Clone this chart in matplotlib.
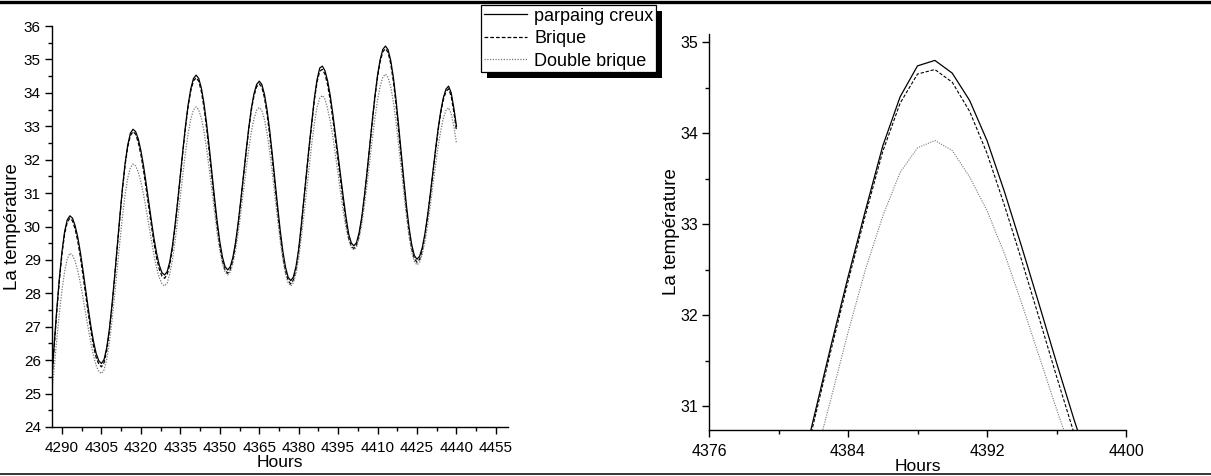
import numpy as np
import matplotlib
matplotlib.use('Agg')
import matplotlib.pyplot as plt
from matplotlib.lines import Line2D
from matplotlib.patches import Rectangle
from matplotlib.ticker import MultipleLocator

plt.rcParams['font.family'] = ['Liberation Sans', 'DejaVu Sans']

# hourly simulation output
hours = np.arange(4286, 4441)

parpaing = [
    25.30, 26.45, 27.50, 28.45, 29.25, 29.85, 30.20, 30.32,
    30.25, 30.02, 29.68, 29.22, 28.68, 28.11, 27.54, 27.01, 26.55, 26.20, 25.98, 25.90,
    26.02, 26.37, 26.92, 27.65, 28.50, 29.41, 30.31, 31.16, 31.89, 32.44, 32.79, 32.91,
    32.84, 32.62, 32.27, 31.82, 31.29, 30.73, 30.17, 29.64, 29.19, 28.84, 28.62, 28.55,
    28.65, 28.95, 29.42, 30.05, 30.77, 31.54, 32.31, 33.04, 33.66, 34.13, 34.43, 34.53,
    34.43, 34.14, 33.68, 33.07, 32.37, 31.62, 30.86, 30.16, 29.55, 29.09, 28.80, 28.70,
    28.80, 29.08, 29.53, 30.11, 30.80, 31.53, 32.25, 32.94, 33.53, 33.97, 34.25, 34.35,
    34.25, 33.95, 33.48, 32.86, 32.14, 31.37, 30.60, 29.87, 29.25, 28.78, 28.48, 28.38,
    28.49, 28.81, 29.32, 30.05, 30.85, 31.65, 32.42, 33.15, 33.86, 34.40, 34.74, 34.80,
    34.66, 34.36, 33.92, 33.36, 32.75, 32.12, 31.48, 30.86, 30.28, 29.78, 29.51, 29.42,
    29.52, 29.82, 30.29, 30.92, 31.64, 32.41, 33.18, 33.91, 34.53, 35.00, 35.30, 35.40,
    35.29, 34.97, 34.47, 33.81, 33.03, 32.21, 31.39, 30.62, 29.95, 29.45, 29.13, 29.02,
    29.11, 29.37, 29.78, 30.32, 30.94, 31.61, 32.28, 32.91, 33.44, 33.85, 34.11, 34.20,
    34.00, 33.55, 33.00,
]

brique = [
    25.20, 26.35, 27.42, 28.38, 29.18, 29.78, 30.13, 30.25,
    30.17, 29.92, 29.56, 29.08, 28.53, 27.96, 27.39, 26.86, 26.41, 26.08, 25.88, 25.80,
    25.93, 26.29, 26.85, 27.59, 28.45, 29.36, 30.26, 31.11, 31.84, 32.38, 32.72, 32.84,
    32.76, 32.52, 32.15, 31.68, 31.14, 30.58, 30.02, 29.49, 29.05, 28.72, 28.52, 28.45,
    28.56, 28.87, 29.35, 29.99, 30.72, 31.49, 32.26, 32.99, 33.61, 34.07, 34.36, 34.45,
    34.35, 34.04, 33.56, 32.93, 32.22, 31.47, 30.71, 30.01, 29.41, 28.97, 28.70, 28.60,
    28.71, 29.00, 29.46, 30.05, 30.75, 31.48, 32.20, 32.89, 33.48, 33.91, 34.18, 34.27,
    34.17, 33.85, 33.36, 32.72, 31.99, 31.22, 30.45, 29.72, 29.11, 28.66, 28.38, 28.28,
    28.40, 28.73, 29.25, 29.99, 30.80, 31.60, 32.37, 33.10, 33.80, 34.33, 34.65, 34.70,
    34.56, 34.24, 33.78, 33.21, 32.60, 31.97, 31.33, 30.71, 30.14, 29.66, 29.41, 29.34,
    29.44, 29.75, 30.22, 30.86, 31.59, 32.36, 33.13, 33.86, 34.48, 34.94, 35.23, 35.32,
    35.21, 34.87, 34.35, 33.67, 32.88, 32.06, 31.24, 30.47, 29.81, 29.33, 29.03, 28.93,
    29.02, 29.29, 29.71, 30.26, 30.89, 31.56, 32.23, 32.86, 33.39, 33.79, 34.04, 34.12,
    33.90, 33.43, 32.87,
]

double_brique = [
    24.90, 25.75, 26.60, 27.40, 28.10, 28.65, 29.03, 29.20,
    29.14, 28.96, 28.67, 28.30, 27.86, 27.40, 26.94, 26.50, 26.13, 25.84, 25.66, 25.60,
    25.71, 26.02, 26.52, 27.17, 27.93, 28.74, 29.54, 30.30, 30.96, 31.45, 31.76, 31.87,
    31.81, 31.63, 31.34, 30.96, 30.52, 30.05, 29.57, 29.13, 28.75, 28.47, 28.28, 28.22,
    28.31, 28.58, 29.00, 29.56, 30.21, 30.90, 31.59, 32.24, 32.80, 33.22, 33.49, 33.58,
    33.49, 33.24, 32.85, 32.32, 31.71, 31.07, 30.42, 29.81, 29.28, 28.89, 28.64, 28.55,
    28.64, 28.89, 29.28, 29.80, 30.41, 31.06, 31.70, 32.31, 32.83, 33.22, 33.48, 33.56,
    33.47, 33.20, 32.78, 32.23, 31.58, 30.89, 30.20, 29.56, 29.00, 28.58, 28.31, 28.22,
    28.32, 28.60, 29.05, 29.65, 30.34, 31.07, 31.81, 32.50, 33.09, 33.57, 33.84, 33.92,
    33.81, 33.52, 33.15, 32.68, 32.13, 31.55, 30.97, 30.42, 29.95, 29.60, 29.37, 29.30,
    29.39, 29.65, 30.07, 30.62, 31.25, 31.93, 32.61, 33.25, 33.79, 34.20, 34.47, 34.56,
    34.46, 34.18, 33.73, 33.13, 32.44, 31.71, 30.97, 30.28, 29.68, 29.23, 28.95, 28.85,
    28.93, 29.17, 29.54, 30.03, 30.59, 31.20, 31.81, 32.38, 32.86, 33.24, 33.47, 33.55,
    33.38, 33.00, 32.50,
]

labels = ['parpaing creux', 'Brique', 'Double brique']
styles = [dict(color='black', linestyle='-', linewidth=0.9),
          dict(color='black', linestyle=(0, (3, 1.6)), linewidth=0.9),
          dict(color='#777777', linestyle=(0, (1, 1.2)), linewidth=0.9)]
series = [parpaing, brique, double_brique]

W, H = 1211, 476
fig = plt.figure(figsize=(W / 100, H / 100), dpi=100)


def style_axes(ax, fontsize, family):
    for side in ['top', 'right']:
        ax.spines[side].set_visible(False)
    for side in ['left', 'bottom']:
        ax.spines[side].set_linewidth(1.0)
    ax.tick_params(which='major', direction='out', length=5, width=1.0,
                   labelsize=fontsize, pad=3)
    ax.tick_params(which='minor', direction='out', length=2.8, width=1.0)
    ax.tick_params(axis='x', which='major', pad=5)
    for lab in ax.get_xticklabels() + ax.get_yticklabels():
        lab.set_family(family)


# left panel: full period
ax1 = fig.add_axes([52 / W, 1 - 427 / H, (508 - 52) / W, (427 - 26) / H])
for y, st in zip(series, styles):
    ax1.plot(hours, y, **st)
ax1.set_xlim(4286.2, 4459.6)
ax1.set_ylim(24, 36)
ax1.xaxis.set_major_locator(MultipleLocator(15))
ax1.xaxis.set_minor_locator(MultipleLocator(7.5))
ax1.yaxis.set_major_locator(MultipleLocator(1))
ax1.yaxis.set_minor_locator(MultipleLocator(0.5))
ax1.set_xticks(np.arange(4290, 4456, 15))
style_axes(ax1, 11, ['Liberation Sans'])
ax1.set_xlabel('Hours', fontsize=12.5, labelpad=0)
ax1.set_ylabel('La température', fontsize=13.5, labelpad=2)

# right panel: zoom on one peak
ax2 = fig.add_axes([709 / W, 1 - 430 / H, (1126 - 709) / W, (430 - 34) / H])
for y, st in zip(series, styles):
    st2 = dict(st)
    if st['linestyle'] != '-':
        st2['linewidth'] = 0.8
    ax2.plot(hours, y, **st2)
ax2.set_xlim(4376, 4400)
ax2.set_ylim(30.74, 35.09)
ax2.xaxis.set_major_locator(MultipleLocator(8))
ax2.xaxis.set_minor_locator(MultipleLocator(4))
ax2.yaxis.set_major_locator(MultipleLocator(1))
ax2.yaxis.set_minor_locator(MultipleLocator(0.5))
style_axes(ax2, 11.5, ['Liberation Sans Narrow', 'Liberation Sans'])
ax2.set_xlabel('Hours', fontsize=12.5, labelpad=0)
ax2.set_ylabel('La température', fontsize=13.5, labelpad=0)

# legend with a hard black shadow
handles = [Line2D([], [], **st) for st in styles]
leg = fig.legend(handles, labels, loc='upper left',
                 bbox_to_anchor=(481 / W, 1 - 5 / H), fontsize=13,
                 frameon=True, fancybox=False, edgecolor='black', framealpha=1,
                 handlelength=2.4, handletextpad=0.4, labelspacing=0.3,
                 borderpad=0.15, borderaxespad=0)
leg.get_frame().set_linewidth(0.9)
fig.canvas.draw()
bb = leg.get_window_extent().transformed(fig.transFigure.inverted())
fig.add_artist(Rectangle((bb.x0 + 6 / W, bb.y0 - 6 / H), bb.width, bb.height,
                         transform=fig.transFigure, facecolor='black',
                         edgecolor='none', zorder=4))
leg.set_zorder(5)

# page rules above and below
fig.add_artist(Line2D([0, 1], [1 - 1.5 / H, 1 - 1.5 / H], transform=fig.transFigure,
                      color='black', linewidth=2.4))
fig.add_artist(Line2D([0, 1], [2 / H, 2 / H], transform=fig.transFigure,
                      color='black', linewidth=1.1))

fig.savefig('out.png', dpi=100)
